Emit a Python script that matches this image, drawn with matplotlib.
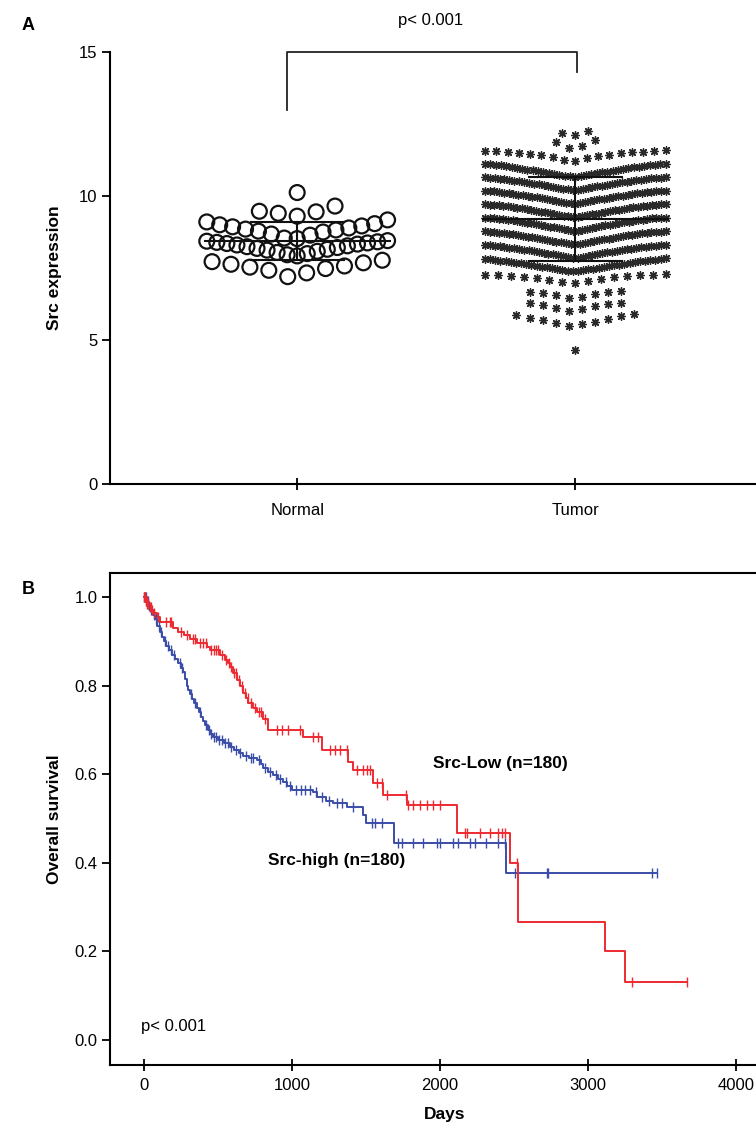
import numpy as np
import matplotlib
matplotlib.use('Agg')
import matplotlib.pyplot as plt

plt.rcParams['font.family'] = ['Liberation Sans', 'DejaVu Sans']

# ---------------- panel A: Src expression ----------------
groups = ['Normal', 'Tumor']

normal_expr = [7.20, 7.33, 7.42, 7.48, 7.53, 7.57, 7.63, 7.68, 7.72, 7.77,
               7.92, 7.96, 8.00, 8.04, 8.08, 8.12, 8.15, 8.18, 8.21, 8.24,
               8.27, 8.30, 8.33, 8.35, 8.37, 8.39, 8.41, 8.43, 8.45,
               8.52, 8.54, 8.64, 8.68, 8.75, 8.78, 8.82, 8.85, 8.89, 8.93,
               8.96, 9.00, 9.04, 9.10, 9.17,
               9.30, 9.40, 9.45, 9.47, 9.65,
               10.12]

tumor_expr = [
    4.65,
    5.50, 5.54, 5.59, 5.64, 5.69, 5.74, 5.78, 5.82, 5.86, 5.90,
    6.00, 6.06, 6.12, 6.17, 6.21, 6.25, 6.28, 6.30,
    6.45, 6.50, 6.55, 6.59, 6.62, 6.65, 6.67, 6.69,
    6.97, 7.02, 7.06, 7.10, 7.13, 7.16, 7.18, 7.20, 7.22, 7.23, 7.24, 7.25, 7.26, 7.27, 7.28,
    7.38, 7.39, 7.41, 7.42, 7.44, 7.45, 7.47, 7.48, 7.50, 7.51, 7.53, 7.54, 7.55, 7.57, 7.58,
    7.60, 7.61, 7.62, 7.64, 7.65, 7.66, 7.68, 7.69, 7.70, 7.71, 7.73, 7.74, 7.75, 7.76, 7.77,
    7.78, 7.79, 7.80, 7.81, 7.82, 7.83,
    7.85, 7.86, 7.88, 7.89, 7.91, 7.92, 7.94, 7.95, 7.97, 7.98, 8.00, 8.01, 8.03, 8.04, 8.05,
    8.07, 8.08, 8.09, 8.11, 8.12, 8.13, 8.15, 8.16, 8.17, 8.18, 8.20, 8.21, 8.22, 8.23, 8.24,
    8.25, 8.26, 8.27, 8.28, 8.29, 8.29, 8.30, 8.30,
    8.32, 8.33, 8.35, 8.36, 8.38, 8.39, 8.41, 8.42, 8.44, 8.45, 8.47, 8.48, 8.50, 8.51, 8.52,
    8.54, 8.55, 8.56, 8.58, 8.59, 8.60, 8.62, 8.63, 8.64, 8.65, 8.67, 8.68, 8.69, 8.70, 8.71,
    8.72, 8.73, 8.74, 8.75, 8.75, 8.76, 8.76, 8.77, 8.77,
    8.79, 8.80, 8.82, 8.83, 8.85, 8.86, 8.88, 8.89, 8.91, 8.92, 8.94, 8.95, 8.97, 8.98, 8.99,
    9.01, 9.02, 9.03, 9.05, 9.06, 9.07, 9.09, 9.10, 9.11, 9.12, 9.14, 9.15, 9.16, 9.17, 9.18,
    9.19, 9.20, 9.21, 9.22, 9.22, 9.23, 9.23, 9.24, 9.24, 9.24,
    9.26, 9.27, 9.29, 9.30, 9.32, 9.33, 9.35, 9.36, 9.38, 9.39, 9.41, 9.42, 9.44, 9.45, 9.46,
    9.48, 9.49, 9.50, 9.52, 9.53, 9.54, 9.56, 9.57, 9.58, 9.59, 9.61, 9.62, 9.63, 9.64, 9.65,
    9.66, 9.67, 9.68, 9.69, 9.69, 9.70, 9.70, 9.71, 9.71, 9.71,
    9.73, 9.74, 9.76, 9.77, 9.79, 9.80, 9.82, 9.83, 9.85, 9.86, 9.88, 9.89, 9.91, 9.92, 9.93,
    9.95, 9.96, 9.97, 9.99, 10.00, 10.01, 10.03, 10.04, 10.05, 10.06, 10.08, 10.09, 10.10,
    10.11, 10.12, 10.13, 10.14, 10.15, 10.16, 10.16, 10.17, 10.17, 10.18, 10.18,
    10.20, 10.21, 10.23, 10.24, 10.26, 10.27, 10.29, 10.30, 10.32, 10.33, 10.35, 10.36, 10.38,
    10.39, 10.40, 10.42, 10.43, 10.44, 10.46, 10.47, 10.48, 10.50, 10.51, 10.52, 10.53, 10.55,
    10.56, 10.57, 10.58, 10.59, 10.60, 10.61, 10.62, 10.63, 10.64, 10.64, 10.65, 10.65,
    10.67, 10.68, 10.70, 10.71, 10.73, 10.74, 10.76, 10.77, 10.79, 10.80, 10.82, 10.83, 10.85,
    10.86, 10.88, 10.89, 10.91, 10.92, 10.94, 10.95, 10.97, 10.98, 10.99, 11.01, 11.02, 11.03,
    11.05, 11.06, 11.07, 11.08, 11.09, 11.10, 11.11, 11.12, 11.12,
    11.20, 11.26, 11.31, 11.35, 11.38, 11.41, 11.44, 11.46, 11.48, 11.50, 11.52, 11.53, 11.54,
    11.55, 11.56, 11.57, 11.58,
    11.65, 11.72, 11.88, 11.95,
    12.12, 12.18, 12.25]

normal_mean, normal_sd = 8.44, 0.66
tumor_mean, tumor_sd = 9.20, 1.47
p_text = 'p< 0.001'

# ---------------- panel B: Kaplan-Meier ----------------
high_t = [0, 15, 30, 45, 60, 75, 90, 105, 120, 135, 150, 170, 190, 210, 230, 250, 265, 280,
          290, 298, 310, 325, 340, 355, 370, 385, 400, 415, 430, 445, 467, 500, 540, 580,
          610, 640, 670, 710, 765, 790, 805, 840, 873, 905, 940, 970, 1001, 1143, 1170,
          1230, 1279, 1373, 1482, 1500, 1690, 2449]
high_s = [1.0, 0.99, 0.98, 0.97, 0.96, 0.95, 0.935, 0.92, 0.91, 0.90, 0.89, 0.88, 0.87, 0.86,
          0.85, 0.84, 0.83, 0.815, 0.80, 0.79, 0.78, 0.77, 0.76, 0.75, 0.74, 0.73, 0.72, 0.71,
          0.70, 0.69, 0.684, 0.677, 0.67, 0.662, 0.655, 0.648, 0.642, 0.637, 0.632, 0.623,
          0.614, 0.606, 0.598, 0.59, 0.582, 0.573, 0.564, 0.56, 0.549, 0.54, 0.535, 0.526,
          0.508, 0.49, 0.445, 0.377]
high_cens = [3, 6, 10, 14, 20, 25, 35, 50, 65, 80, 100, 115, 140, 160, 180, 200, 240, 260,
             320, 345, 380, 420, 440, 455, 475, 490, 510, 530, 550, 570, 590, 620, 650, 690,
             720, 740, 780, 820, 850, 890, 920, 960, 990, 1030, 1060, 1090, 1120, 1160, 1200,
             1250, 1306, 1340, 1414, 1543, 1563, 1610, 1719, 1745, 1820, 1888, 1982, 2003,
             2090, 2124, 2206, 2240, 2314, 2395, 2442, 2510, 2727, 2733, 3437, 3471]

low_t = [0, 10, 20, 35, 50, 61, 85, 108, 196, 230, 270, 311, 360, 426, 446, 514, 548, 565,
         582, 600, 629, 650, 670, 690, 704, 737, 765, 805, 839, 1076, 1204, 1380, 1414, 1549,
         1617, 1779, 2118, 2476, 2530, 3119, 3254]
low_s = [1.0, 0.99, 0.985, 0.978, 0.97, 0.964, 0.955, 0.944, 0.93, 0.922, 0.914, 0.905,
         0.896, 0.888, 0.88, 0.868, 0.858, 0.85, 0.842, 0.828, 0.813, 0.80, 0.783, 0.772,
         0.761, 0.75, 0.74, 0.725, 0.70, 0.684, 0.655, 0.628, 0.61, 0.58, 0.553, 0.53, 0.467,
         0.40, 0.266, 0.20, 0.131]
low_cens = [2, 5, 8, 12, 15, 18, 22, 26, 30, 40, 45, 55, 70, 95, 150, 175, 185, 250, 290, 330,
            345, 380, 400, 420, 455, 470, 490, 500, 530, 555, 575, 590, 610, 620, 640, 660,
            680, 700, 720, 750, 780, 790, 820, 900, 934, 974, 1055, 1143, 1177, 1258, 1292,
            1326, 1373, 1441, 1482, 1509, 1529, 1576, 1610, 1640, 1773, 1786, 1820, 1867,
            1914, 1955, 2003, 2172, 2185, 2273, 2341, 2395, 2422, 2442, 2524, 3302, 3674]

RED = '#ee2a30'
BLUE = '#3a4da8'


def row_layout(vals, base, width, step, maxw):
    # GraphPad-like scatter: bin values into rows, lowest value in the middle
    vals = np.asarray(vals, dtype=float)
    bins = np.floor((vals - base) / width).astype(int)
    xs = np.zeros(len(vals))
    for b in np.unique(bins):
        idx = np.where(bins == b)[0]
        idx = idx[np.argsort(vals[idx], kind='stable')]
        n = len(idx)
        gap = step if n < 2 else min(step, maxw / (n - 1))
        offs = (np.arange(n) - (n - 1) / 2) * gap
        order = np.argsort(np.abs(offs), kind='stable')
        xs[idx] = offs[order]
    return xs


def surv_at(t, s, times):
    t = np.asarray(t)
    s = np.asarray(s)
    k = np.searchsorted(t, times, side='right') - 1
    return s[k]


fig = plt.figure(figsize=(7.56, 11.24), dpi=100)

# ---- panel A ----
ax1 = fig.add_axes([110 / 756, 640 / 1124, 660 / 756, 432 / 1124])
ax1.set_xlim(0.327, 2.70)
ax1.set_ylim(0, 15)
ax1.spines['top'].set_visible(False)
ax1.spines['right'].set_visible(False)
for sp in ['left', 'bottom']:
    ax1.spines[sp].set_linewidth(1.5)

xn = 1 + row_layout(normal_expr, 7.15, 0.68, 0.068, 0.65)
xt = 2 + row_layout(tumor_expr, 7.37, 0.47, 0.047, 0.65)

ax1.scatter(xn, normal_expr, s=115, facecolors='none', edgecolors='#111111',
            linewidths=1.6, zorder=3)
ax1.scatter(xt, tumor_expr, s=30, marker=(8, 2, 0), color='#2a2a2a',
            linewidths=1.0, zorder=3)

for xc, m, sd in [(1, normal_mean, normal_sd), (2, tumor_mean, tumor_sd)]:
    ax1.plot([xc - 0.333, xc + 0.333], [m, m], color='#111111', lw=1.5, zorder=4)
    ax1.plot([xc - 0.167, xc + 0.167], [m + sd, m + sd], color='#111111', lw=1.5, zorder=4)
    ax1.plot([xc - 0.167, xc + 0.167], [m - sd, m - sd], color='#111111', lw=1.5, zorder=4)
    ax1.plot([xc, xc], [m - sd, m + sd], color='#111111', lw=1.5, zorder=4)

ax1.plot([0.965, 0.965, 2.005, 2.005], [13.0, 15.0, 15.0, 14.3], color='#222222',
         lw=1.3, clip_on=False)
ax1.text(1.48, 16.1, p_text, ha='center', va='center', fontsize=12)

ax1.set_xticks([1, 2])
ax1.set_xticklabels(groups, fontsize=12)
ax1.set_yticks([0, 5, 10, 15])
ax1.tick_params(axis='y', direction='out', length=6, width=1.3, labelsize=12, pad=3)
ax1.tick_params(axis='x', direction='inout', length=8, width=1.3, pad=10)
ax1.set_ylabel('Src expression', fontsize=12.5, fontweight='bold', labelpad=12)
fig.text(22 / 756, 1 - 25 / 1124, 'A', fontsize=13, fontweight='bold', va='center')

# ---- panel B ----
ax2 = fig.add_axes([110 / 756, 59 / 1124, 670 / 756, 492 / 1124])
ax2.set_xlim(-230, 4300)
ax2.set_ylim(-0.0564, 1.0542)
ax2.spines['right'].set_visible(False)
for sp in ['left', 'bottom', 'top']:
    ax2.spines[sp].set_linewidth(1.5)

for t, s, cens, col in [(high_t, high_s, high_cens, BLUE), (low_t, low_s, low_cens, RED)]:
    tt = list(t) + [max(cens)]
    ss = list(s) + [s[-1]]
    ax2.step(tt, ss, where='post', color=col, lw=1.4, zorder=3)
    ax2.plot(cens, surv_at(t, s, cens), linestyle='none', marker='|', markersize=7,
             markeredgewidth=1.0, color=col, zorder=4)

ax2.text(1955, 0.625, 'Src-Low (n=180)', fontsize=12.5, fontweight='bold', va='center')
ax2.text(839, 0.406, 'Src-high (n=180)', fontsize=12.5, fontweight='bold', va='center')
ax2.text(-20, 0.03, p_text, fontsize=12, va='center')

ax2.set_xticks([0, 1000, 2000, 3000, 4000])
ax2.set_yticks([0, 0.2, 0.4, 0.6, 0.8, 1.0])
ax2.set_yticklabels(['0.0', '0.2', '0.4', '0.6', '0.8', '1.0'])
ax2.tick_params(axis='y', direction='out', length=6, width=1.3, labelsize=12, pad=3)
ax2.tick_params(axis='x', direction='inout', length=9, width=1.3, labelsize=12, pad=5)
ax2.set_ylabel('Overall survival', fontsize=12.5, fontweight='bold', labelpad=9)
ax2.set_xlabel('Days', fontsize=12.5, fontweight='bold', labelpad=10)
fig.text(22 / 756, 1 - 590 / 1124, 'B', fontsize=13, fontweight='bold', va='center')

fig.savefig('out.png', dpi=100)
